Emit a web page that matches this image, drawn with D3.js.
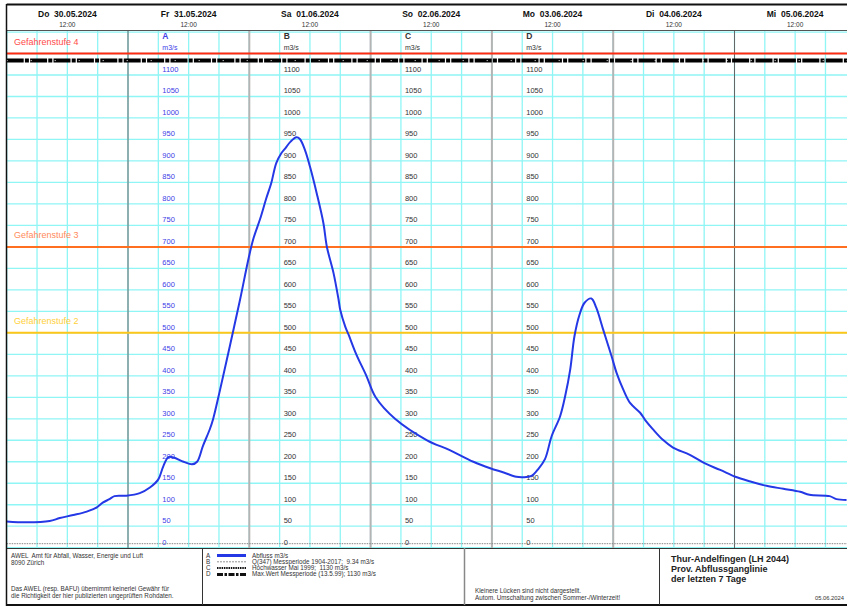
<!DOCTYPE html>
<html>
<head>
<meta charset="utf-8">
<script src="https://cdn.jsdelivr.net/npm/d3@7"></script>
<style>
  body { margin: 0; background: #fff; }
  svg { font-family: "Liberation Sans", Arial, sans-serif; display: block; }
  text { white-space: pre; }
</style>
</head>
<body>
<svg id="chart" width="847" height="606"></svg>
<script>
// Abfluss Thur-Andelfingen
var times = [
  "2024-05-30 00:00", "2024-05-30 04:00", "2024-05-30 08:30", "2024-05-30 10:30", "2024-05-30 13:10",
  "2024-05-30 15:50", "2024-05-30 17:50", "2024-05-30 19:00", "2024-05-30 20:20", "2024-05-30 21:20",
  "2024-05-30 23:40", "2024-05-31 02:20", "2024-05-31 04:20", "2024-05-31 06:00", "2024-05-31 07:00",
  "2024-05-31 08:00", "2024-05-31 09:00", "2024-05-31 11:00", "2024-05-31 12:40", "2024-05-31 13:40",
  "2024-05-31 14:50", "2024-05-31 16:10", "2024-05-31 16:50", "2024-05-31 18:10", "2024-05-31 20:10",
  "2024-05-31 22:10", "2024-05-31 23:50", "2024-06-01 00:50", "2024-06-01 02:10", "2024-06-01 03:20",
  "2024-06-01 04:20", "2024-06-01 05:20", "2024-06-01 06:20", "2024-06-01 07:10", "2024-06-01 08:10",
  "2024-06-01 09:20", "2024-06-01 10:00", "2024-06-01 11:00", "2024-06-01 12:00", "2024-06-01 13:20",
  "2024-06-01 14:40", "2024-06-01 15:20", "2024-06-01 16:40", "2024-06-01 17:40", "2024-06-01 18:00",
  "2024-06-01 19:00", "2024-06-01 19:40", "2024-06-01 21:10", "2024-06-01 23:10",
  "2024-06-02 01:00", "2024-06-02 04:50", "2024-06-02 11:10",
  "2024-06-02 15:40", "2024-06-02 20:20", "2024-06-02 23:40",
  "2024-06-03 02:20", "2024-06-03 04:50", "2024-06-03 06:10", "2024-06-03 07:50", "2024-06-03 09:10",
  "2024-06-03 10:30", "2024-06-03 11:50", "2024-06-03 13:30", "2024-06-03 14:30", "2024-06-03 15:30",
  "2024-06-03 16:20", "2024-06-03 17:20", "2024-06-03 18:20", "2024-06-03 19:40", "2024-06-03 20:40",
  "2024-06-03 22:00", "2024-06-03 23:40", "2024-06-04 00:40", "2024-06-04 02:00", "2024-06-04 03:20",
  "2024-06-04 05:20", "2024-06-04 06:20", "2024-06-04 07:50", "2024-06-04 09:50", "2024-06-04 11:50",
  "2024-06-04 15:10", "2024-06-04 18:10", "2024-06-04 21:10", "2024-06-05 00:10", "2024-06-05 03:10",
  "2024-06-05 06:20", "2024-06-05 09:40", "2024-06-05 13:00", "2024-06-05 14:50", "2024-06-05 18:50",
  "2024-06-05 20:10", "2024-06-05 22:10"
];
var abfluss = [
  61, 59, 62, 69, 76,
  84, 94, 105, 113, 120,
  121, 127, 140, 159, 190,
  211, 210, 200, 194, 200,
  237, 275, 299, 365, 470,
  577, 672, 720, 766, 812,
  848, 895, 918, 930, 945,
  955, 951, 926, 887, 825,
  755, 701, 639, 577, 553,
  514, 495, 450, 400,
  350, 300, 250,
  227, 200, 185,
  175, 165, 164, 167, 183,
  206, 260, 306, 353, 415,
  492, 542, 570, 580, 558,
  508, 446, 407, 368, 337,
  314, 297, 276, 251, 233,
  216, 196, 181, 165, 154,
  144, 137, 130, 123, 120,
  113, 111
];

var gefahrLabels = ["Gefahrenstufe 2", "Gefahrenstufe 3", "Gefahrenstufe 4"];
var gefahrValues = [500, 700, 1150];
var q347 = 9.34;
var hochwasser = 1130;

var axisNames = ["A", "B", "C", "D"];
var axisTimes = ["2024-05-31 06:00", "2024-06-01 06:00", "2024-06-02 06:00", "2024-06-03 06:00"];
var yTicks = d3.range(0, 1101, 50);
var weekdayNames = ["So", "Mo", "Di", "Mi", "Do", "Fr", "Sa"];

var legendKeys = ["A", "B", "C", "D"];
var legendTexts = ["Abfluss m3/s", "Q(347) Messperiode 1904-2017;  9.34 m3/s",
  "Hochwasser Mai 1999;  1130 m3/s", "Max.Wert Messperiode (13.5.99); 1130 m3/s"];
var footerLeft = ["AWEL  Amt für Abfall, Wasser, Energie und Luft", "8090 Zürich"];
var footerNote = ["Das AWEL (resp. BAFU) übernimmt keinerlei Gewähr für", "die Richtigkeit der hier publizierten ungeprüften Rohdaten."];
var footerMid = ["Kleinere Lücken sind nicht dargestellt.", "Autom. Umschaltung zwischen Sommer-/Winterzeit!"];
var titleLines = ["Thur-Andelfingen (LH 2044)", "Prov. Abflussganglinie", "der letzten 7 Tage"];
var printDate = "05.06.2024";

var parseTime = d3.timeParse("%Y-%m-%d %H:%M");
var svg = d3.select("#chart");

var LEFT = 6.7, DAYW = 121.3, TOP = 30, BOTTOM = 548, W = 847;
var start = parseTime("2024-05-30 00:00"), end = parseTime("2024-06-06 00:00");
var x = d3.scaleTime().domain([start, end]).range([LEFT, LEFT + 7 * DAYW]);
var y = d3.scaleLinear().domain([0, 1100]).range([547.7, 75]);

var data = times.map(function (t, i) { return { t: parseTime(t), v: abfluss[i] }; });

var plot = svg.append("g");
plot.append("clipPath").attr("id", "clip").append("rect")
  .attr("x", LEFT).attr("y", TOP).attr("width", W - LEFT).attr("height", BOTTOM - TOP);
var inner = plot.append("g").attr("clip-path", "url(#clip)");

// cyan grid
inner.selectAll("line.hgrid")
  .data(d3.range(0, 1201, 50))
  .enter().append("line")
  .attr("x1", LEFT).attr("x2", W)
  .attr("y1", function (d) { return y(d); })
  .attr("y2", function (d) { return y(d); })
  .attr("stroke", "#8ff5f5").attr("stroke-width", 1.3);

inner.selectAll("line.vgrid")
  .data(x.ticks(d3.timeHour.every(6)))
  .enter().append("line")
  .attr("x1", function (d) { return x(d); })
  .attr("x2", function (d) { return x(d); })
  .attr("y1", TOP).attr("y2", BOTTOM)
  .attr("stroke", "#8ff5f5").attr("stroke-width", 1.3);

// day lines
inner.selectAll("line.day")
  .data(x.ticks(d3.timeDay.every(1)).slice(1))
  .enter().append("line")
  .attr("x1", function (d) { return x(d); })
  .attr("x2", function (d) { return x(d); })
  .attr("y1", TOP).attr("y2", BOTTOM)
  .attr("stroke", function (d) { return (d.getDay() === 5 || d.getDay() === 3) ? "#666" : "#b4b4b4"; })
  .attr("stroke-width", function (d) { return (d.getDay() === 5 || d.getDay() === 3) ? 1 : 2; });

// axes A-D
axisTimes.forEach(function (t, i) {
  var ax = x(parseTime(t));
  var col = i === 0 ? "#4040e6" : "#333";
  var g = inner.append("g").attr("transform", "translate(" + ax + ",0)")
    .call(d3.axisRight(y).tickValues(yTicks).tickSize(0).tickPadding(4).tickFormat(d3.format("d")));
  g.select(".domain").remove();
  g.selectAll("text").attr("dy", -3.5).attr("fill", col)
    .style("font-size", "7.5px").style("font-family", "Liberation Sans, Arial, sans-serif");
  inner.append("text").attr("x", ax + 4).attr("y", 38.5).attr("fill", col)
    .style("font-size", "8.5px").style("font-weight", "bold").text(axisNames[i]);
  inner.append("text").attr("x", ax + 4).attr("y", 50).attr("fill", col)
    .style("font-size", "7px").text("m3/s");
});

// Gefahrenstufen
var gefahrLine = ["#ffc61a", "#ff6f1f", "#ff2a10"];
var gefahrText = ["#ffcf3a", "#ff8a5a", "#ff4a4a"];
gefahrValues.forEach(function (v, i) {
  inner.append("line").attr("x1", LEFT).attr("x2", W)
    .attr("y1", y(v)).attr("y2", y(v))
    .attr("stroke", gefahrLine[i]).attr("stroke-width", 2);
  inner.append("text").attr("x", 14).attr("y", y(v) - 8.5)
    .attr("fill", gefahrText[i]).style("font-size", "9px").text(gefahrLabels[i]);
});

// Hochwasser / Max.Wert
inner.append("line").attr("x1", LEFT).attr("x2", W)
  .attr("y1", y(hochwasser) - 1.5).attr("y2", y(hochwasser) - 1.5)
  .attr("stroke", "#000").attr("stroke-width", 4).attr("stroke-dasharray", "17,1.2,4,1.2");
inner.append("line").attr("x1", LEFT).attr("x2", W)
  .attr("y1", y(hochwasser) - 1.5).attr("y2", y(hochwasser) - 1.5)
  .attr("stroke", "#fff").attr("stroke-width", 1).attr("stroke-dasharray", "1,23");

// Q347
inner.append("line").attr("x1", LEFT).attr("x2", W)
  .attr("y1", y(q347)).attr("y2", y(q347))
  .attr("stroke", "#888").attr("stroke-width", 1).attr("stroke-dasharray", "1.5,1");

// Abfluss
var line = d3.line()
  .x(function (d) { return x(d.t); })
  .y(function (d) { return y(d.v); })
  .curve(d3.curveCatmullRom);
inner.append("path").datum(data).attr("d", line)
  .attr("fill", "none").attr("stroke", "#2438e6").attr("stroke-width", 2);

// header
var days = d3.timeDay.range(start, end);
svg.selectAll("text.dayname").data(days).enter().append("text")
  .attr("x", function (d) { return x(d3.timeHour.offset(d, 12)); })
  .attr("y", 17).attr("text-anchor", "middle")
  .style("font-size", "8.5px").style("font-weight", "bold").attr("fill", "#111")
  .text(function (d) { return weekdayNames[d.getDay()] + "  " + d3.timeFormat("%d.%m.%Y")(d); });
svg.selectAll("text.noon").data(days).enter().append("text")
  .attr("x", function (d) { return x(d3.timeHour.offset(d, 12)); })
  .attr("y", 26.5).attr("text-anchor", "middle")
  .style("font-size", "6.5px").attr("fill", "#333")
  .text(d3.timeFormat("%H:%M")(parseTime("2024-05-30 12:00")));

// frame
svg.append("line").attr("x1", LEFT).attr("x2", W).attr("y1", 4.5).attr("y2", 4.5).attr("stroke", "#111").attr("stroke-width", 2);
svg.append("line").attr("x1", LEFT).attr("x2", W).attr("y1", TOP + 0.5).attr("y2", TOP + 0.5).attr("stroke", "#555").attr("stroke-width", 1);
svg.append("line").attr("x1", LEFT).attr("x2", W).attr("y1", BOTTOM + 0.5).attr("y2", BOTTOM + 0.5).attr("stroke", "#333").attr("stroke-width", 1);
svg.append("line").attr("x1", LEFT).attr("x2", W).attr("y1", 605).attr("y2", 605).attr("stroke", "#111").attr("stroke-width", 2);
svg.append("line").attr("x1", 6.5).attr("x2", 6.5).attr("y1", 4).attr("y2", 606).attr("stroke", "#111").attr("stroke-width", 1.5);
[202.5, 464.5, 659.5].forEach(function (sx, i) {
  svg.append("line").attr("x1", sx).attr("x2", sx).attr("y1", BOTTOM).attr("y2", 605)
    .attr("stroke", i === 1 ? "#888" : "#333").attr("stroke-width", i === 1 ? 1.5 : 1);
});

// footer
var foot = svg.append("g").style("font-size", "6.3px").attr("fill", "#333");
footerLeft.forEach(function (s, i) {
  foot.append("text").attr("x", 11).attr("y", 558 + i * 6.5).text(s);
});
footerNote.forEach(function (s, i) {
  foot.append("text").attr("x", 11).attr("y", 591 + i * 7).text(s);
});
footerMid.forEach(function (s, i) {
  foot.append("text").attr("x", 475).attr("y", 593 + i * 6.8).text(s);
});
var legStroke = [["#2438e6", 3, null], ["#777", 0.8, "2,1"], ["#111", 2, "1.5,0.8"], ["#111", 3, "6,1.5,2.5,1.5"]];
legendKeys.forEach(function (k, i) {
  var ly = 555.5 + i * 6.3;
  foot.append("text").attr("x", 206).attr("y", ly + 2).text(k);
  foot.append("line").attr("x1", 217).attr("x2", 246).attr("y1", ly).attr("y2", ly)
    .attr("stroke", legStroke[i][0]).attr("stroke-width", legStroke[i][1])
    .attr("stroke-dasharray", legStroke[i][2]);
  foot.append("text").attr("x", 252).attr("y", ly + 2).text(legendTexts[i]);
});
titleLines.forEach(function (s, i) {
  svg.append("text").attr("x", 671).attr("y", 562 + i * 10)
    .style("font-size", "9px").style("font-weight", "bold").attr("fill", "#222").text(s);
});
foot.append("text").attr("x", 815).attr("y", 599.5).style("font-size", "5.8px").text(printDate);
</script>
</body>
</html>
